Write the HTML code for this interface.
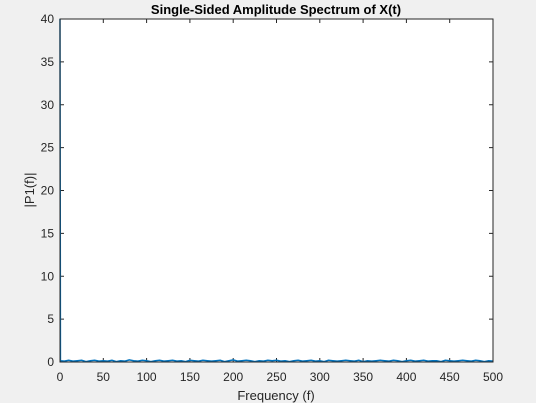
<!DOCTYPE html>
<html><head><meta charset="utf-8"><style>
html,body{margin:0;padding:0;background:#f0f0f0;}
svg{display:block;font-family:"Liberation Sans",Arial,sans-serif;}
</style></head><body>
<svg id="chart" width="536" height="403" viewBox="0 0 536 403">
<rect x="0" y="0" width="536" height="403" fill="#f0f0f0"/>
<rect x="60" y="19" width="433" height="343" fill="#ffffff"/>
<g id="grid"></g>
<g id="series"></g>
<rect x="60" y="19" width="433" height="343" fill="none" stroke="#262626" stroke-width="1"/>
<text x="276" y="14" text-anchor="middle" font-size="13" font-weight="bold" fill="#000">Single-Sided Amplitude Spectrum of X(t)</text>
<text x="276" y="400" text-anchor="middle" font-size="13" fill="#262626">Frequency (f)</text>
<text x="0" y="0" transform="translate(34,190) rotate(-90)" text-anchor="middle" font-size="13" fill="#262626">|P1(f)|</text>
</svg>
<script>
const xTicks = [0,50,100,150,200,250,300,350,400,450,500];
const yTicks = [0,5,10,15,20,25,30,35,40];
const freqs = [0,0.5,5,10,15,20,25,30,35,40,45,50,55,60,65,70,75,80,85,90,95,100,105,110,115,120,125,130,135,140,145,150,155,160,165,170,175,180,185,190,195,200,205,210,215,220,225,230,235,240,245,250,255,260,265,270,275,280,285,290,295,300,305,310,315,320,325,330,335,340,345,350,355,360,365,370,375,380,385,390,395,400,405,410,415,420,425,430,435,440,445,450,455,460,465,470,475,480,485,490,495,500];
const amps = [40,0.15,0.1,0.2,0.1,0.15,0.2,0.05,0.15,0.2,0.1,0.15,0.1,0.2,0.05,0.15,0.1,0.25,0.15,0.1,0.2,0.15,0.05,0.15,0.2,0.1,0.15,0.2,0.1,0.15,0.05,0.2,0.15,0.1,0.2,0.15,0.1,0.15,0.2,0.05,0.15,0.25,0.1,0.15,0.2,0.15,0.05,0.15,0.1,0.2,0.15,0.2,0.1,0.15,0.05,0.15,0.2,0.1,0.15,0.2,0.1,0.15,0.05,0.2,0.15,0.1,0.15,0.2,0.15,0.1,0.2,0.05,0.15,0.1,0.15,0.2,0.15,0.1,0.2,0.15,0.05,0.15,0.2,0.1,0.15,0.2,0.1,0.15,0.15,0.05,0.2,0.15,0.1,0.15,0.2,0.15,0.1,0.2,0.15,0.05,0.15,0.1];
const NS='http://www.w3.org/2000/svg';
const L=60,R=493,T=19,B=362;
const xs=v=>L+(v-0)/(500-0)*(R-L);
const ys=v=>B-(v-0)/(40-0)*(B-T);
const svg=document.getElementById('chart');
const grid=document.getElementById('grid');
xTicks.forEach(t=>{
  const x=xs(t);
  const l=document.createElementNS(NS,'line');
  l.setAttribute('x1',x);l.setAttribute('x2',x);l.setAttribute('y1',B);l.setAttribute('y2',B-4);
  l.setAttribute('stroke','#262626');
  
  
  grid.appendChild(l);
  const l2=document.createElementNS(NS,'line');
  l2.setAttribute('x1',x);l2.setAttribute('x2',x);l2.setAttribute('y1',T);l2.setAttribute('y2',T+4);
  l2.setAttribute('stroke','#262626');
  
  
  grid.appendChild(l2);
  const tx=document.createElementNS(NS,'text');
  tx.setAttribute('x',x);tx.setAttribute('y',B+19);tx.setAttribute('text-anchor','middle');
  tx.setAttribute('font-size','12');tx.setAttribute('fill','#262626');
  tx.textContent=t;
  
  
  svg.appendChild(tx);
});
yTicks.forEach(t=>{
  const y=ys(t);
  const l=document.createElementNS(NS,'line');
  l.setAttribute('x1',L);l.setAttribute('x2',L+4);l.setAttribute('y1',y);l.setAttribute('y2',y);
  l.setAttribute('stroke','#262626');
  
  
  grid.appendChild(l);
  const l2=document.createElementNS(NS,'line');
  l2.setAttribute('x1',R);l2.setAttribute('x2',R-4);l2.setAttribute('y1',y);l2.setAttribute('y2',y);
  l2.setAttribute('stroke','#262626');
  
  
  grid.appendChild(l2);
  const tx=document.createElementNS(NS,'text');
  tx.setAttribute('x',L-6);tx.setAttribute('y',y+4);tx.setAttribute('text-anchor','end');
  tx.setAttribute('font-size','12');tx.setAttribute('fill','#262626');
  tx.textContent=t;
  
  
  svg.appendChild(tx);
});
const pts=freqs.map((f,i)=>xs(f).toFixed(2)+','+ys(amps[i]).toFixed(2)).join(' ');
const pl=document.createElementNS(NS,'polyline');
pl.setAttribute('points',pts);
pl.setAttribute('fill','none');pl.setAttribute('stroke','#0072bd');pl.setAttribute('stroke-width','1.5');


document.getElementById('series').appendChild(pl);
</script>
</body></html>
